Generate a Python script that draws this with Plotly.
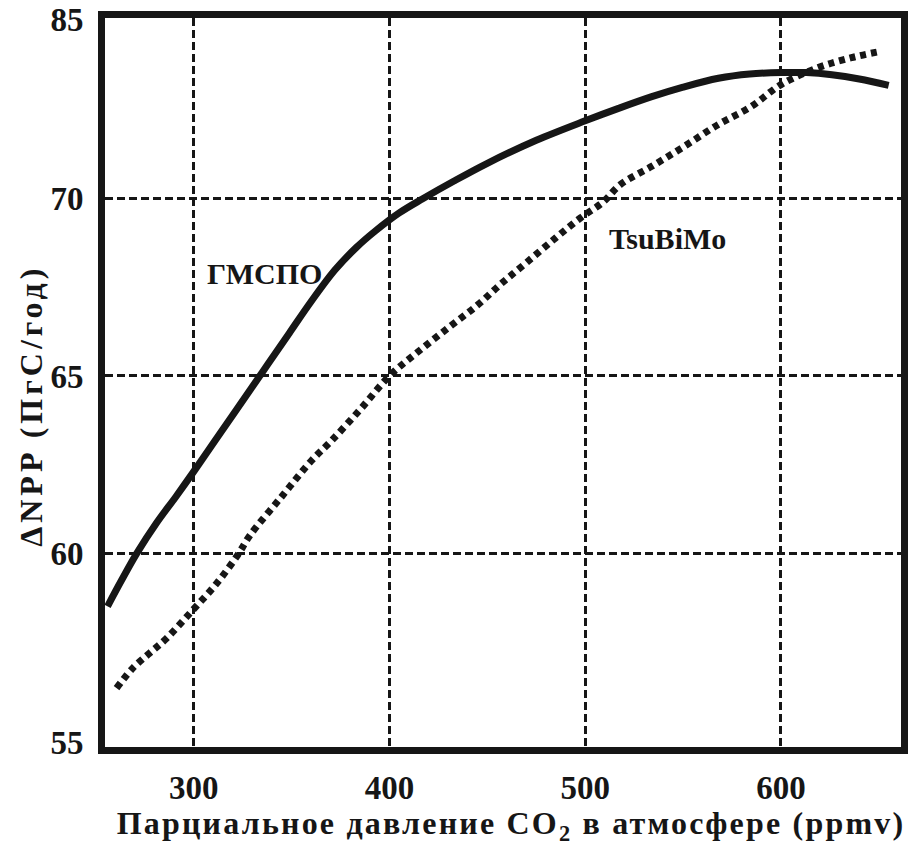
import plotly.graph_objects as go

# CO2 partial pressure (ppmv) and NPP response for the two models
gmspo_x = [256, 263, 271, 281, 291, 300, 310, 320, 335, 349, 360, 372, 383, 393,
           405, 417, 433, 450, 475, 500, 517, 534, 550, 568, 584, 600, 613, 626, 640, 655]
gmspo_y = [58.50, 59.22, 60.00, 60.85, 61.60, 62.30, 63.10, 63.90, 65.10, 66.22,
           67.10, 67.98, 68.62, 69.10, 69.60, 70.00, 70.50, 71.00, 71.65, 72.20,
           72.55, 72.88, 73.15, 73.40, 73.52, 73.56, 73.56, 73.50, 73.38, 73.20]

tsubimo_x = [260.6, 268.8, 277.5, 286.2, 299.5, 311.8, 322.5, 328.7, 345, 360, 370,
             385, 400, 415, 431, 445, 457, 470, 485, 497.6, 509, 518, 533.5, 550.4,
             567.8, 584.7, 600, 619, 636, 650]
tsubimo_y = [56.19, 56.75, 57.18, 57.60, 58.39, 59.15, 59.95, 60.50, 61.60, 62.60,
             63.15, 64.05, 65.00, 65.70, 66.40, 67.00, 67.60, 68.20, 68.90, 69.46,
             69.90, 70.40, 70.90, 71.47, 72.09, 72.60, 73.22, 73.70, 73.98, 74.15]

# axis ticks
x_ticks = [300, 400, 500, 600]
x_tick_labels = ["300", "400", "500", "600"]
y_label_pos = [54.65, 60, 65, 70, 75.05]
y_tick_labels = ["55", "60", "65", "70", "85"]
y_grid = [60, 65, 70]

INK = "#161616"
FONT = "Liberation Serif"

fig = go.Figure()
fig.add_trace(go.Scatter(
    x=gmspo_x, y=gmspo_y, mode="lines", line_shape="spline",
    line=dict(color=INK, width=7), showlegend=False, hoverinfo="skip"))
fig.add_trace(go.Scatter(
    x=tsubimo_x, y=tsubimo_y, mode="lines", line_shape="spline",
    line=dict(color=INK, width=7, dash="6px,5px"), showlegend=False, hoverinfo="skip"))

# curve labels
fig.add_annotation(x=336.4, y=67.9, text="ГМСПО", showarrow=False,
                   font=dict(family=FONT, size=30, color=INK, weight="bold"))
fig.add_annotation(x=542.2, y=68.88, text="TsuBiMo", showarrow=False,
                   font=dict(family=FONT, size=30, color=INK, weight="bold"))

# axis titles
fig.add_annotation(xref="paper", yref="paper", x=-0.093, y=0.468,
                   xanchor="center", yanchor="middle",
                   text="ΔNPP (ПгС/год)", textangle=-90, showarrow=False,
                   font=dict(family=FONT, size=32, color=INK, weight="bold"))
fig.add_annotation(xref="paper", yref="paper", x=0.51, y=-0.108,
                   xanchor="center", yanchor="middle",
                   text="Парциальное давление CO<sub>2</sub> в атмосфере (ppmv)",
                   showarrow=False,
                   font=dict(family=FONT, size=32, color=INK, weight="bold"))

fig.update_layout(
    width=908, height=845,
    margin=dict(l=105, r=0, t=18, b=98),
    paper_bgcolor="white", plot_bgcolor="white",
    xaxis=dict(
        range=[254.7, 661.3], tickmode="array", tickvals=x_ticks, ticktext=x_tick_labels,
        showgrid=True, gridcolor=INK, gridwidth=2.5, griddash="8px,4px",
        showline=True, linewidth=7, linecolor=INK, mirror=True,
        ticks="", zeroline=False, ticklabelstandoff=5,
        tickfont=dict(family=FONT, size=33, color=INK, weight="bold"),
    ),
    yaxis=dict(
        range=[54.53, 75.10], tickmode="array", tickvals=y_label_pos, ticktext=y_tick_labels,
        showgrid=False,
        minor=dict(tickmode="array", tickvals=y_grid, showgrid=True, gridcolor=INK,
                   gridwidth=2.5, griddash="8px,4px", ticks=""),
        showline=True, linewidth=7, linecolor=INK, mirror=True,
        ticks="", zeroline=False, ticklabelstandoff=8,
        tickfont=dict(family=FONT, size=33, color=INK, weight="bold"),
    ),
)

# the axis titles are set with wide letter spacing
spacing_js = """
var gd = document.getElementById('{plot_id}');
gd.querySelectorAll('.annotation-text').forEach(function (t) {
  var s = t.textContent;
  if (s.indexOf('ppmv') >= 0) { t.style.letterSpacing = '2.2px'; }
  if (s.indexOf('NPP') >= 0) { t.style.letterSpacing = '4px'; }
});
"""

fig.write_html("out.html", post_script=spacing_js)
